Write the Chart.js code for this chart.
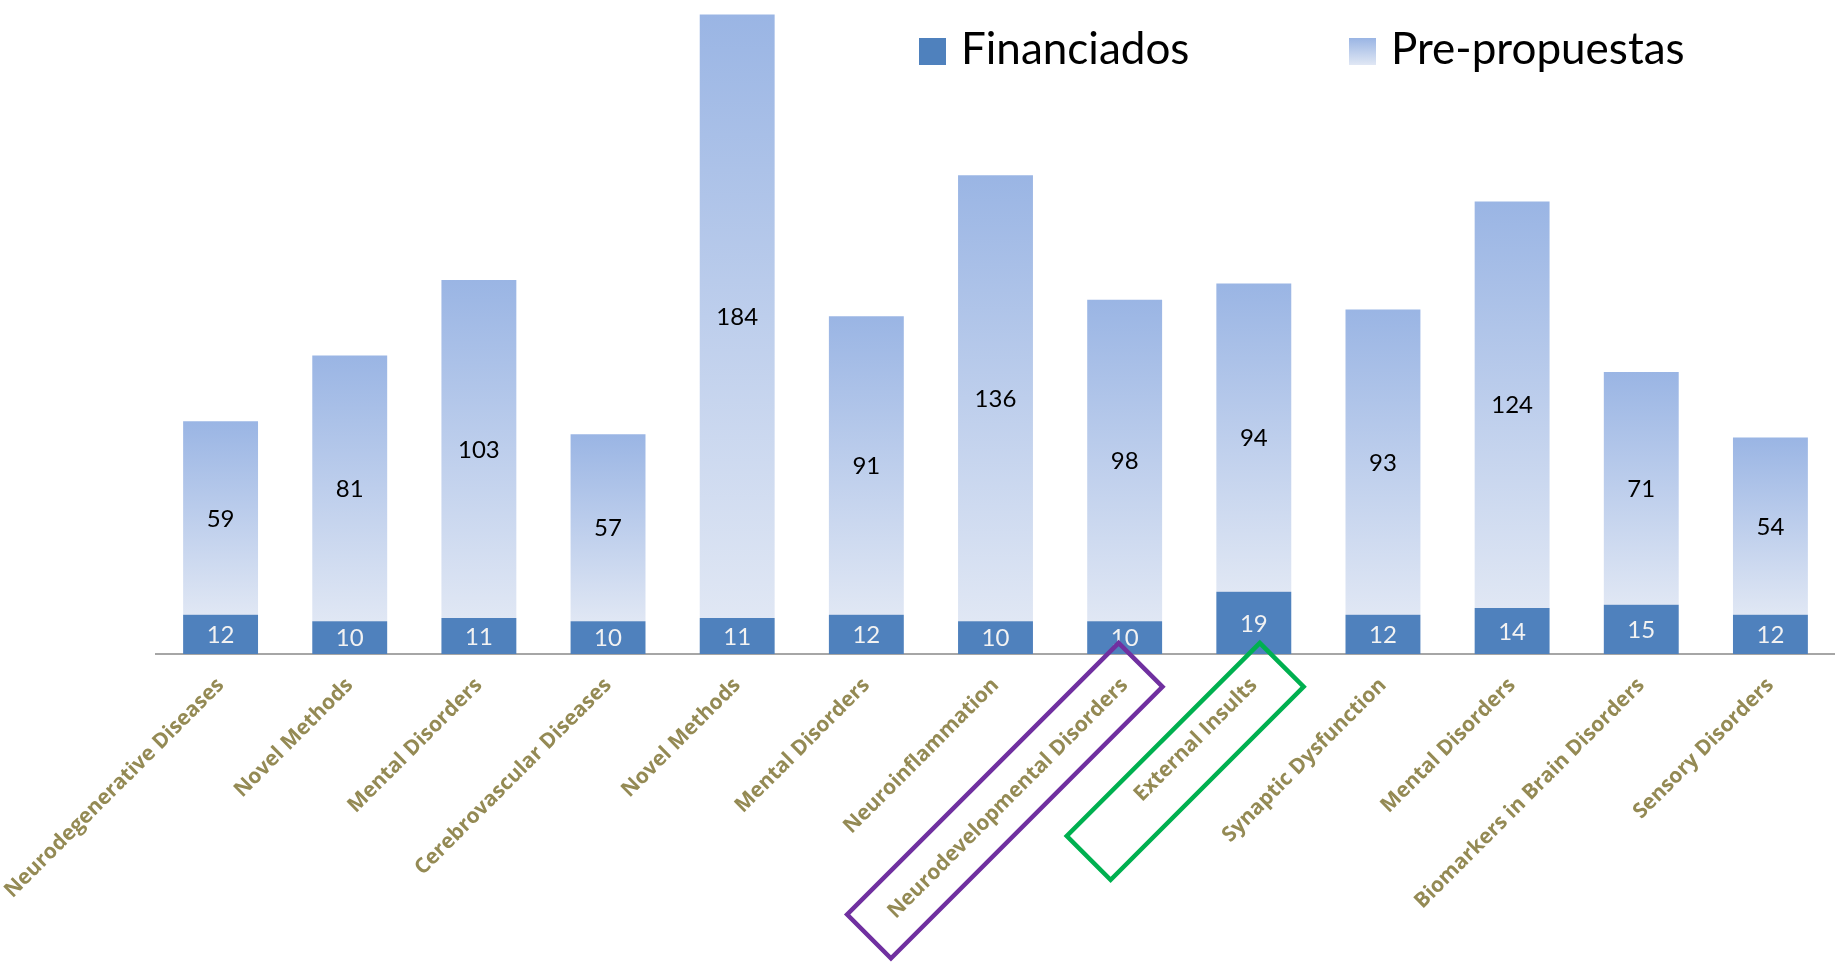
<!DOCTYPE html>
<html lang="es">
<head>
<meta charset="utf-8">
<title>Financiados y Pre-propuestas</title>
<script src="https://cdn.jsdelivr.net/npm/chart.js@4.4.0/dist/chart.umd.min.js"></script>
<style>
    html, body { margin: 0; padding: 0; background: #ffffff; }
    #wrap { position: relative; width: 1835px; height: 965px; }
    #legend .item { position: absolute; top: 21px; height: 53px; }
    #legend .swatch { position: absolute; left: 0; top: 17px; width: 27px; height: 27px; }
    #legend .text {
        position: absolute; left: 42px; top: 0; white-space: nowrap;
        font-family: Lato, "Open Sans", sans-serif; font-size: 44px; line-height: 53px; color: #000;
    }
</style>
</head>
<body>
<div id="wrap">
    <canvas id="chart" width="1835" height="965"></canvas>
    <div id="legend">
        <div class="item" style="left: 919px;">
            <div class="swatch" style="background: #4F81BD;"></div>
            <span class="text">Financiados</span>
        </div>
        <div class="item" style="left: 1349px;">
            <div class="swatch" style="background: linear-gradient(#9AB5E4, #E0E7F4);"></div>
            <span class="text">Pre-propuestas</span>
        </div>
    </div>
</div>
<script>
// ---------------------------------------------------------------
// Datos
// ---------------------------------------------------------------
const categorias = [
    'Neurodegenerative Diseases', 'Novel Methods', 'Mental Disorders', 'Cerebrovascular Diseases',
    'Novel Methods', 'Mental Disorders', 'Neuroinflammation', 'Neurodevelopmental Disorders',
    'External Insults', 'Synaptic Dysfunction', 'Mental Disorders', 'Biomarkers in Brain Disorders',
    'Sensory Disorders'
];
const financiados = [12, 10, 11, 10, 11, 12, 10, 10, 19, 12, 14, 15, 12];
const prePropuestas = [59, 81, 103, 57, 184, 91, 136, 98, 94, 93, 124, 71, 54];

// categorías resaltadas con un recuadro (índices)
const recuadros = [
    { index: 7, color: '#7030A0', dx: -6, length: 384, depth: 62 },
    { index: 8, color: '#00B050', dx: 6, length: 273, depth: 62 }
];

const AZUL = '#4F81BD';
const GRAD_TOP = '#9AB5E4';
const GRAD_BOTTOM = '#E0E7F4';

// gradiente propio para cada barra de pre-propuestas
function preGradient(ctx) {
    const chart = ctx.chart;
    const y = chart.scales.y;
    if (!chart.chartArea || !y || ctx.type !== 'data') return GRAD_TOP;
    const i = ctx.dataIndex;
    const top = y.getPixelForValue(financiados[i] + prePropuestas[i]);
    const bottom = y.getPixelForValue(financiados[i]);
    const g = chart.ctx.createLinearGradient(0, top, 0, bottom);
    g.addColorStop(0, GRAD_TOP);
    g.addColorStop(1, GRAD_BOTTOM);
    return g;
}

// etiquetas de valor dentro de cada segmento
const etiquetasValor = {
    id: 'etiquetasValor',
    afterDatasetsDraw(chart) {
        const c = chart.ctx;
        chart.data.datasets.forEach((ds, di) => {
            const meta = chart.getDatasetMeta(di);
            c.save();
            c.font = '24px Lato, "Open Sans", sans-serif';
            c.fillStyle = ds.labelColor;
            c.textAlign = 'center';
            c.textBaseline = 'middle';
            meta.data.forEach((bar, i) => {
                c.fillText(String(ds.data[i]), bar.x, (bar.y + bar.base) / 2 + 1);
            });
            c.restore();
        });
    }
};

// recuadros de color alrededor de algunas etiquetas del eje X
const recuadrosPlugin = {
    id: 'recuadros',
    afterDraw(chart) {
        const c = chart.ctx;
        const x = chart.scales.x;
        const y = chart.scales.y;
        recuadros.forEach(r => {
            c.save();
            c.translate(x.getPixelForValue(r.index) + r.dx, y.getPixelForValue(0) - 11);
            c.rotate(Math.PI / 4);
            c.strokeStyle = r.color;
            c.lineWidth = 4.5;
            c.lineJoin = 'miter';
            c.strokeRect(0, 0, r.depth, r.length);
            c.restore();
        });
    }
};

new Chart(document.getElementById('chart').getContext('2d'), {
    type: 'bar',
    data: {
        labels: categorias,
        datasets: [
            {
                label: 'Financiados',
                data: financiados,
                backgroundColor: AZUL,
                labelColor: '#F2F2F2',
                borderWidth: 0,
                barPercentage: 0.58,
                categoryPercentage: 1
            },
            {
                label: 'Pre-propuestas',
                data: prePropuestas,
                backgroundColor: preGradient,
                labelColor: '#000000',
                borderWidth: 0,
                barPercentage: 0.58,
                categoryPercentage: 1
            }
        ]
    },
    options: {
        responsive: false,
        animation: false,
        layout: { padding: { left: 156, right: 0, top: 0, bottom: 0 } },
        plugins: {
            legend: { display: false },
            tooltip: { enabled: false }
        },
        scales: {
            x: {
                stacked: true,
                grid: { display: false, drawTicks: false },
                border: { display: true, color: '#A6A6A6', width: 2 },
                ticks: {
                    color: '#948A54',
                    font: { family: '"Open Sans", sans-serif', size: 21, weight: 'bold' },
                    minRotation: 45,
                    maxRotation: 45,
                    autoSkip: false,
                    padding: 19
                },
                afterFit(scale) {
                    scale.height = 311;
                    scale.paddingLeft = 0;
                    scale.paddingRight = 0;
                }
            },
            y: {
                stacked: true,
                display: false,
                min: 0,
                max: 199.4
            }
        }
    },
    plugins: [etiquetasValor, recuadrosPlugin]
});
</script>
</body>
</html>
